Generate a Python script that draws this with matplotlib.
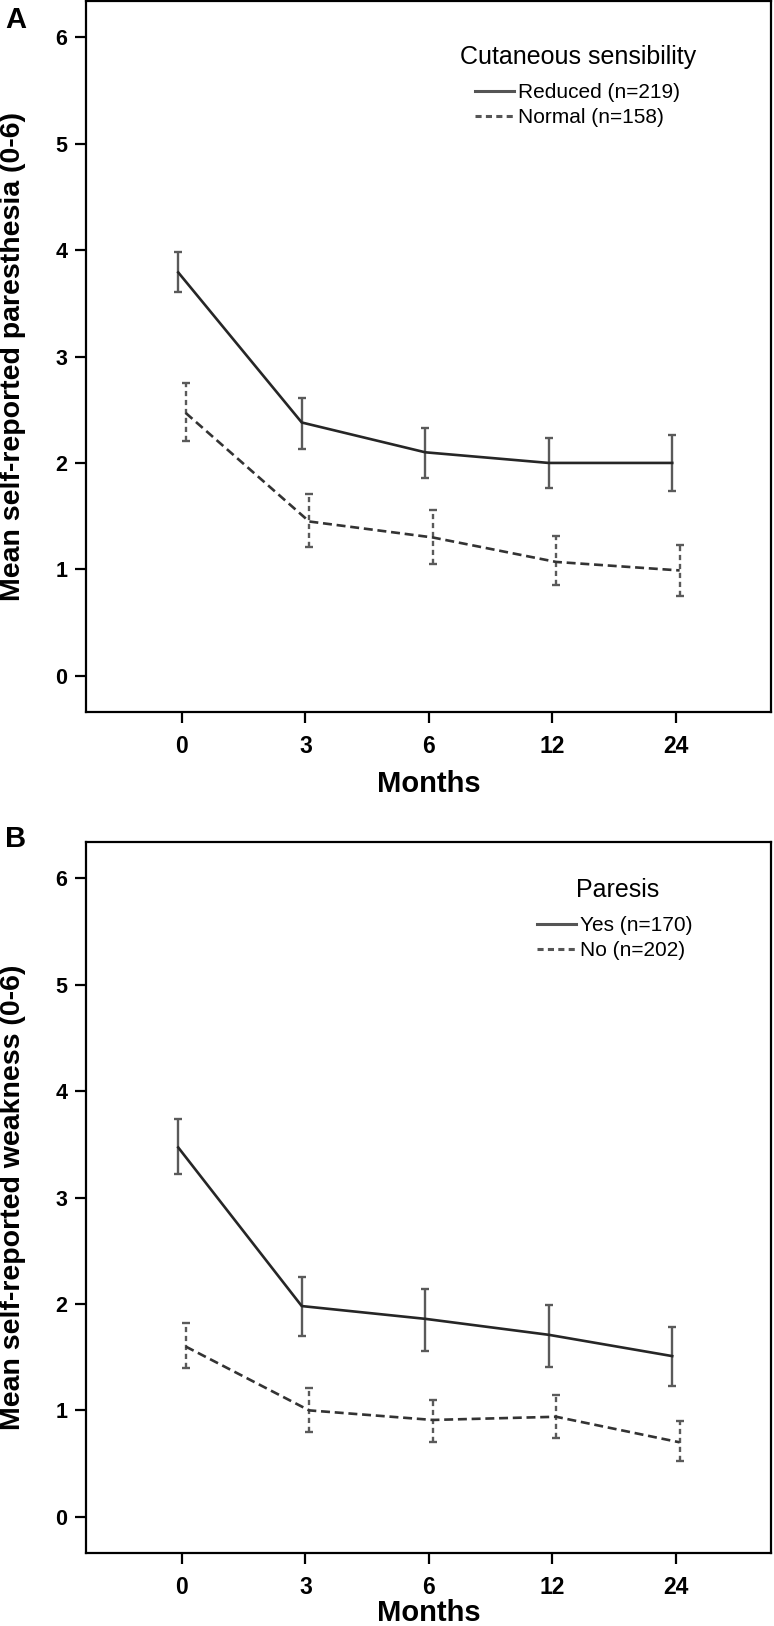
import matplotlib
matplotlib.use("Agg")
import matplotlib.pyplot as plt
from matplotlib.lines import Line2D

plt.rcParams['font.family'] = ['Liberation Sans', 'DejaVu Sans']

# ---- data ----
months = ["0", "3", "6", "12", "24"]

a_reduced_mean = [3.79, 2.38, 2.10, 2.00, 2.00]
a_reduced_lo = [3.61, 2.13, 1.86, 1.76, 1.74]
a_reduced_hi = [3.98, 2.61, 2.33, 2.23, 2.26]
a_normal_mean = [2.47, 1.45, 1.30, 1.07, 0.99]
a_normal_lo = [2.21, 1.21, 1.05, 0.85, 0.75]
a_normal_hi = [2.75, 1.71, 1.56, 1.31, 1.23]

b_yes_mean = [3.47, 1.98, 1.86, 1.71, 1.51]
b_yes_lo = [3.22, 1.70, 1.56, 1.41, 1.23]
b_yes_hi = [3.74, 2.25, 2.14, 1.99, 1.78]
b_no_mean = [1.60, 1.00, 0.91, 0.94, 0.70]
b_no_lo = [1.40, 0.80, 0.70, 0.74, 0.52]
b_no_hi = [1.82, 1.21, 1.10, 1.14, 0.90]

yticks = [0, 1, 2, 3, 4, 5, 6]

W, H = 774, 1626
fig = plt.figure(figsize=(W / 100, H / 100), dpi=100)

panels = [
    dict(rect=[86 / W, 1 - 712 / H, 685 / W, 711 / H], label="A", lab_y=28,
         ylabel="Mean self-reported paresthesia (0-6)", xlabelpad=9,
         s1=(a_reduced_mean, a_reduced_lo, a_reduced_hi), s2=(a_normal_mean, a_normal_lo, a_normal_hi),
         title="Cutaneous sensibility", names=["Reduced (n=219)", "Normal (n=158)"],
         title_xy=(578, 57), leg_xy=(475, 83)),
    dict(rect=[86 / W, 1 - 1553 / H, 685 / W, 711 / H], label="B", lab_y=847,
         ylabel="Mean self-reported weakness (0-6)", xlabelpad=0,
         s1=(b_yes_mean, b_yes_lo, b_yes_hi), s2=(b_no_mean, b_no_lo, b_no_hi),
         title="Paresis", names=["Yes (n=170)", "No (n=202)"],
         title_xy=(618, 890), leg_xy=(537, 916)),
]

dodge = 0.03
solid_col = "#262626"
dash_col = "#333333"
err_col = "#5a5a5a"

for p in panels:
    ax = fig.add_axes(p["rect"])
    idx = list(range(len(months)))
    for (mean, lo, hi), off, ls, ecls, col in [
        (p["s1"], -dodge, "-", "-", solid_col),
        (p["s2"], dodge, (0, (3.4, 1.8)), (0, (2.2, 1.6)), dash_col),
    ]:
        xs = [i + off for i in idx]
        yerr = [[m - l for m, l in zip(mean, lo)], [h - m for m, h in zip(mean, hi)]]
        ax.plot(xs, mean, linestyle=ls, color=col, lw=1.9, zorder=3)
        eb = ax.errorbar(xs, mean, yerr=yerr, fmt="none", ecolor=err_col, elinewidth=1.7,
                         capsize=3.0, capthick=1.7, zorder=2)
        for lc in eb[2]:
            lc.set_linestyle(ecls)

    ax.set_xlim(-0.777, 4.77)
    ax.set_ylim(-0.34, 6.34)
    ax.set_xticks(idx)
    ax.set_xticklabels(months)
    ax.set_yticks(yticks)
    ax.tick_params(axis="both", direction="out", length=8, width=1.6, color="black")
    ax.tick_params(axis="y", pad=5.5, labelsize=15.5)
    ax.tick_params(axis="x", pad=8.5, labelsize=16.5)
    for t in ax.get_xticklabels() + ax.get_yticklabels():
        t.set_fontweight("bold")
    for s in ax.spines.values():
        s.set_linewidth(1.6)
        s.set_color("black")
    ax.set_xlabel("Months", fontsize=21, fontweight="bold", labelpad=p["xlabelpad"])

    fig.text(13 / W, p["rect"][1] + p["rect"][3] / 2, p["ylabel"], rotation=90,
             ha="center", va="center", fontsize=20.5, fontweight="bold")
    fig.text(5 / W, 1 - p["lab_y"] / H, p["label"], ha="left", va="baseline",
             fontsize=21, fontweight="bold")

    fig.text(p["title_xy"][0] / W, 1 - p["title_xy"][1] / H, p["title"], ha="center",
             va="center", fontsize=18)
    handles = [Line2D([], [], color="#555555", lw=2.2, linestyle="-"),
               Line2D([], [], color="#555555", lw=2.2, linestyle=(0, (2.0, 1.4)))]
    fig.legend(handles, p["names"], loc="upper left",
               bbox_to_anchor=(p["leg_xy"][0] / W, 1 - p["leg_xy"][1] / H),
               frameon=False, fontsize=15, handlelength=1.85, handletextpad=0.2,
               borderpad=0, borderaxespad=0, labelspacing=0.29)

fig.savefig("out.png", dpi=100)
